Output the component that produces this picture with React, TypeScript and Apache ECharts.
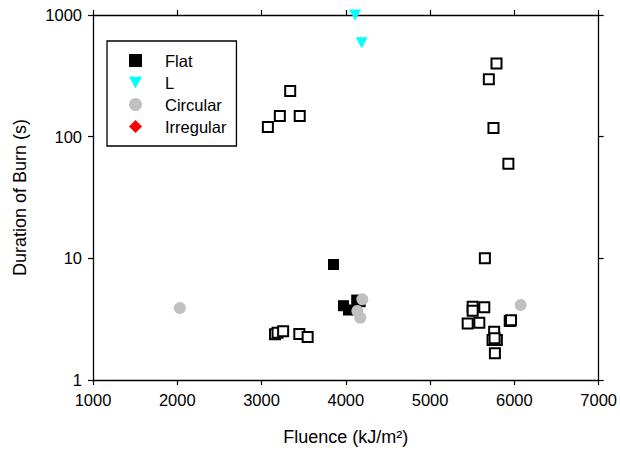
import React, { useEffect, useRef } from "react";
import * as echarts from "echarts";

const xTicks = [1000, 2000, 3000, 4000, 5000, 6000, 7000];
const yTicks = [1, 10, 100, 1000];

const openSquares: [number, number][] = [
  [3075, 120], [3217, 148], [3340, 237], [3453, 148],
  [5788, 400], [5697, 296], [5752, 118], [5929, 60],
  [5650, 10],
  [3160, 2.38], [3190, 2.45], [3256, 2.52], [3448, 2.39], [3547, 2.26],
  [5505, 4.0], [5505, 3.71], [5643, 3.96], [5446, 2.92], [5584, 2.96],
  [5945, 3.05], [5960, 3.1], [5760, 2.49], [5741, 2.13], [5792, 2.13],
  [5765, 2.2], [5769, 1.66],
];
const flat: [number, number][] = [
  [3854, 8.9], [3972, 4.08], [4031, 3.76], [4129, 4.54], [4170, 4.4],
];
const lShape: [number, number][] = [
  [4110, 1000], [4188, 591],
];
const circular: [number, number][] = [
  [2030, 3.9], [4196, 4.6], [4137, 3.69], [4172, 3.25], [6075, 4.13],
];
const irregular: [number, number][] = [];

const triDown = "path://M0,0 L10,0 L5,9 Z";

export default function App() {
  const ref = useRef<HTMLDivElement>(null);
  useEffect(() => {
    if (!ref.current) return;
    const chart = echarts.init(ref.current, undefined, { renderer: "svg" });
    const font = "Arial, 'Liberation Sans', sans-serif";
    const axisLine = { show: true, lineStyle: { color: "#000", width: 1.3 } };
    const tick = { show: true, length: 5, lineStyle: { color: "#000", width: 1.2 } };
    const plain = (v: number) => String(v);
    chart.setOption({
      animation: false,
      backgroundColor: "#fff",
      grid: { left: 93, right: 18, top: 15, bottom: 71 },
      legend: {
        left: 107,
        top: 41,
        orient: "vertical",
        backgroundColor: "#fff",
        borderColor: "#000",
        borderWidth: 1.3,
        padding: [11, 10, 11, 22],
        itemWidth: 13,
        itemHeight: 13,
        itemGap: 5,
        textStyle: { fontFamily: font, fontSize: 16.5, color: "#000", padding: [0, 0, 0, 18] },
        data: [
          { name: "Flat", icon: "rect" },
          { name: "L", icon: triDown },
          { name: "Circular", icon: "circle" },
          { name: "Irregular", icon: "diamond" },
        ],
        selectedMode: false,
      },
      xAxis: [
        {
          type: "value",
          min: xTicks[0],
          max: xTicks[xTicks.length - 1],
          interval: 1000,
          name: "Fluence (kJ/m²)",
          nameLocation: "middle",
          nameGap: 48,
          nameTextStyle: { fontFamily: font, fontSize: 18, color: "#000" },
          axisLine,
          axisTick: tick,
          axisLabel: { fontFamily: font, fontSize: 16.5, color: "#000", margin: 11, formatter: plain },
          splitLine: { show: false },
        },
        {
          type: "value",
          position: "top",
          min: xTicks[0],
          max: xTicks[xTicks.length - 1],
          interval: 1000,
          axisLine,
          axisTick: tick,
          axisLabel: { show: false },
          splitLine: { show: false },
        },
      ],
      yAxis: [
        {
          type: "log",
          logBase: 10,
          min: yTicks[0],
          max: yTicks[yTicks.length - 1],
          name: "Duration of Burn (s)",
          nameLocation: "middle",
          nameGap: 64,
          nameTextStyle: { fontFamily: font, fontSize: 18, color: "#000" },
          axisLine,
          axisTick: tick,
          minorTick: { show: false },
          axisLabel: { fontFamily: font, fontSize: 16.5, color: "#000", margin: 11, formatter: plain },
          splitLine: { show: false },
        },
        {
          type: "log",
          logBase: 10,
          position: "right",
          min: yTicks[0],
          max: yTicks[yTicks.length - 1],
          axisLine,
          axisTick: tick,
          axisLabel: { show: false },
          splitLine: { show: false },
        },
      ],
      series: [
        {
          name: "Other",
          type: "scatter",
          data: openSquares,
          symbol: "rect",
          symbolSize: 10,
          itemStyle: { color: "#fff", borderColor: "#000", borderWidth: 2, opacity: 1 },
        },
        {
          name: "Flat",
          type: "scatter",
          data: flat,
          symbol: "rect",
          symbolSize: 11,
          itemStyle: { color: "#000", opacity: 1 },
        },
        {
          name: "L",
          type: "scatter",
          data: lShape,
          symbol: triDown,
          symbolSize: [12, 11],
          itemStyle: { color: "#00ffff", opacity: 1 },
        },
        {
          name: "Circular",
          type: "scatter",
          data: circular,
          symbol: "circle",
          symbolSize: 12,
          itemStyle: { color: "#c0c0c0", opacity: 1 },
        },
        {
          name: "Irregular",
          type: "scatter",
          data: irregular,
          symbol: "diamond",
          symbolSize: 13,
          itemStyle: { color: "#ff0000", opacity: 1 },
        },
      ],
    });
    return () => chart.dispose();
  }, []);
  return <div ref={ref} style={{ width: 620, height: 451, position: "absolute", left: 0, top: 0 }} />;
}
